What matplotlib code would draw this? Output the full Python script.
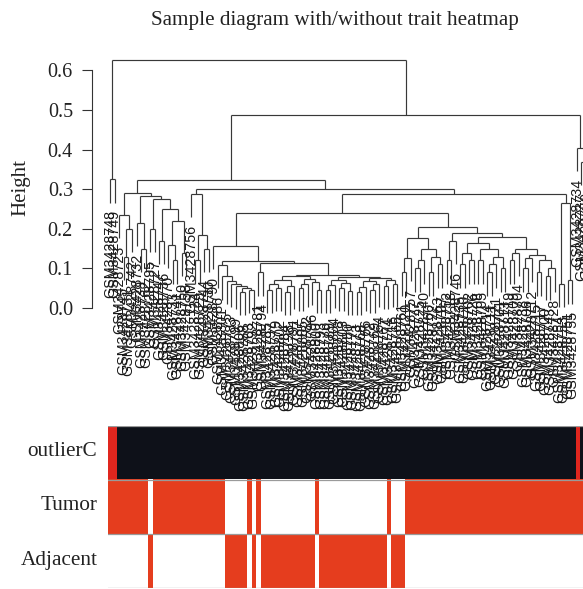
import matplotlib
matplotlib.use("Agg")
import matplotlib.pyplot as plt
from matplotlib.collections import LineCollection
import numpy as np

W, H = 583, 589
fig = plt.figure(figsize=(W / 100, H / 100), dpi=100)

SERIF = ["Liberation Serif", "DejaVu Serif"]
SANS = ["Liberation Sans", "DejaVu Sans"]

# ---------------- data ----------------
title = "Sample diagram with/without trait heatmap"
trait_names = ["outlierC", "Tumor", "Adjacent"]

# dendrogram: "(left,right)height", leaves are "x", numbered left to right
tree_A = "(x,x)0.325"
tree_C = ("((x,((x,x)0.13,x)0.20)0.235,"
          "((x,(x,x)0.15)0.215,((x,x)0.20,((x,x)0.17,((x,(x,x)0.12)0.16,(x,x)0.14)0.22)0.25)0.275)0.283)0.291")
tree_E = "(x,((x,x)0.12,(x,x)0.15)0.184)0.288"
tree_Kleft = "(x,(x,(x,(x,(x,((x,x)0.04,(x,x)0.045)0.05)0.055)0.06)0.068)0.08)0.109"
tree_FL1 = "((((x,x)0.045,(x,x)0.05)0.06,((x,x)0.04,x)0.055)0.07,(((x,x)0.05,x)0.06,(x,(x,x)0.045)0.065)0.072)0.08"
tree_FL2 = ("((((x,x)0.045,x)0.058,((x,x)0.05,(x,x)0.042)0.062)0.07,"
            "((((x,x)0.04,x)0.052,((x,x)0.045,x)0.06)0.068,((x,x)0.055,(x,x)0.06)0.07)0.075)0.078")
tree_K = "(" + tree_Kleft + ",((x,x)0.09,(" + tree_FL1 + "," + tree_FL2 + ")0.083)0.113)0.119"
tree_HL = "(x," + tree_K + ")0.157"
tree_P = "(((x,x)0.09,x)0.126,(((x,x)0.10,x)0.12,((x,x)0.09,(x,x)0.11)0.13)0.15)0.176"
tree_Q2a = "(((x,x)0.11,(x,x)0.12)0.14,((x,x)0.12,(((x,x)0.09,x)0.11,(x,x)0.10)0.13)0.15)0.165"
tree_Q2b = "(((x,x)0.12,x)0.14,(((x,x)0.10,x)0.125,((x,x)0.09,((x,x)0.08,x)0.10)0.12)0.135)0.15"
tree_Q = "(((x,x)0.12,x)0.17,(" + tree_Q2a + "," + tree_Q2b + ")0.18)0.189"
tree_HR = "(" + tree_P + "," + tree_Q + ")0.205"
tree_I = "((x,x)0.06,(x,x)0.07)0.265"
tree_N2 = "(x,(x,x)0.37)0.404"
tree = ("(" + tree_A + ",((" + tree_C + ",(" + tree_E + ",((" + tree_HL + "," + tree_HR + ")0.239,"
        + tree_I + ")0.287)0.30)0.323," + tree_N2 + ")0.488)0.627")

label_ids = [748, 749, 723, 745, 731, 742, 732, 739, 762, 795, 727, 747, 736, 770, 733, 741, 750, 758, 756, 724, 729, 744, 730,
             790, 786, 801, 775, 783, 799, 806, 788, 703, 792, 781, 794, 785, 797, 779, 802, 784, 798, 791, 787, 805, 782, 796, 800,
             793, 776, 789, 804, 778, 803, 780, 771, 773, 768, 766, 772, 769, 764, 767, 774,
             716, 765, 761, 720, 757, 777, 725, 740, 760, 722, 763, 707, 752, 718, 746, 735, 710, 702, 726, 708, 705, 714, 711,
             721, 701, 713, 719, 709, 704, 738, 706, 712, 715, 717, 700, 743, 728,
             754, 753, 751, 755, 734, 737, 759]

outlier_cols = [0, 1, 104]
adjacent_cols = [9, 26, 27, 28, 29, 30, 32, 34, 35, 36, 37, 38, 39, 40, 41, 42, 43, 44, 45,
                 47, 48, 49, 50, 51, 52, 53, 54, 55, 56, 57, 58, 59, 60, 61, 63, 64, 65]
yticks = [0.0, 0.1, 0.2, 0.3, 0.4, 0.5, 0.6]

# ---------------- parse tree ----------------
def parse(s, pos, counter):
    if s[pos] == "x":
        idx = counter[0]
        counter[0] += 1
        return {"leaf": True, "x": float(idx), "h": None}, pos + 1
    left, pos = parse(s, pos + 1, counter)
    right, pos = parse(s, pos + 1, counter)
    pos += 1
    j = pos
    while j < len(s) and (s[j].isdigit() or s[j] == "."):
        j += 1
    h = float(s[pos:j])
    node = {"leaf": False, "l": left, "r": right, "h": h, "x": (left["x"] + right["x"]) / 2}
    return node, j

counter = [0]
root, _ = parse(tree, 0, counter)
n_leaves = counter[0]

heights = []
def collect(n):
    if not n["leaf"]:
        heights.append(n["h"])
        collect(n["l"]); collect(n["r"])
collect(root)
hang = 0.1 * (max(heights) - min(heights))

segs = []
tips = {}
def draw(n):
    if n["leaf"]:
        return
    h = n["h"]
    segs.append([(n["l"]["x"], h), (n["r"]["x"], h)])
    for c in (n["l"], n["r"]):
        if c["leaf"]:
            bottom = h - hang
            tips[int(c["x"])] = bottom
        else:
            bottom = c["h"]
        segs.append([(c["x"], h), (c["x"], bottom)])
        draw(c)
draw(root)

# ---------------- dendrogram axes ----------------
px = lambda v: v / W
py = lambda v: 1 - v / H
x_left, x_right = 107.8, 588.2
y_top, y_bot = 40, 420
ax = fig.add_axes([px(x_left), py(y_bot), px(x_right - x_left), (y_bot - y_top) / H])
ax.add_collection(LineCollection(segs, colors="#383838", linewidths=0.85))
ax.set_xlim(-0.5, n_leaves - 0.5)
ax.set_ylim(-0.283, 0.677)

for i in range(n_leaves):
    ax.annotate("GSM3428%d" % label_ids[i % len(label_ids)], xy=(i, tips[i]), xytext=(0, -5.5),
                textcoords="offset points", rotation=90, ha="center", va="top",
                fontsize=10.3, family=SANS, color="#1a1a1a")

for s in ("top", "right", "bottom"):
    ax.spines[s].set_visible(False)
ax.spines["left"].set_position(("outward", 11.4))
ax.spines["left"].set_bounds(0, 0.6)
ax.spines["left"].set_color("#333333")
ax.spines["left"].set_linewidth(0.8)
ax.set_xticks([])
ax.set_yticks(yticks)
ax.set_yticklabels(["%.1f" % v for v in yticks], family=SERIF, fontsize=14.5, color="#222222")
ax.tick_params(axis="y", length=7.2, width=0.8, pad=6.5, color="#333333")

fig.text(px(21), py(187), "Height", rotation=90, ha="center", va="center",
         family=SERIF, fontsize=15, color="#222222")
fig.text(px(335), py(25.5), title, ha="center", va="baseline",
         family=SERIF, fontsize=15.2, color="#222222")

# ---------------- trait heatmap ----------------
black = np.array([14, 17, 25]) / 255
red_o = np.array([224, 38, 30]) / 255
red_t = np.array([229, 61, 30]) / 255
white = np.array([1.0, 1.0, 1.0])

img = np.zeros((3, n_leaves, 3))
for i in range(n_leaves):
    img[0, i] = red_o if i in outlier_cols else black
    img[1, i] = white if i in adjacent_cols else red_t
    img[2, i] = red_t if i in adjacent_cols else white

hy_top, hy_bot = 425.6, 588.3
hx = fig.add_axes([px(x_left), py(hy_bot), px(x_right - x_left), (hy_bot - hy_top) / H])
hx.imshow(img, aspect="auto", interpolation="nearest", extent=(-0.5, n_leaves - 0.5, 3, 0))
for yb in (0, 1, 2, 2.995):
    hx.axhline(yb, color="#9a9a9a", lw=0.9)
hx.set_xlim(-0.5, n_leaves - 0.5)
hx.set_ylim(3, 0)
hx.axis("off")

row_h = (hy_bot - hy_top) / 3
for k, name in enumerate(trait_names):
    fig.text(px(97.5), py(hy_top + row_h * (k + 0.5) - 1), name, ha="right", va="center",
             family=SERIF, fontsize=15.3, color="#222222")

fig.savefig("out.png", dpi=100)
